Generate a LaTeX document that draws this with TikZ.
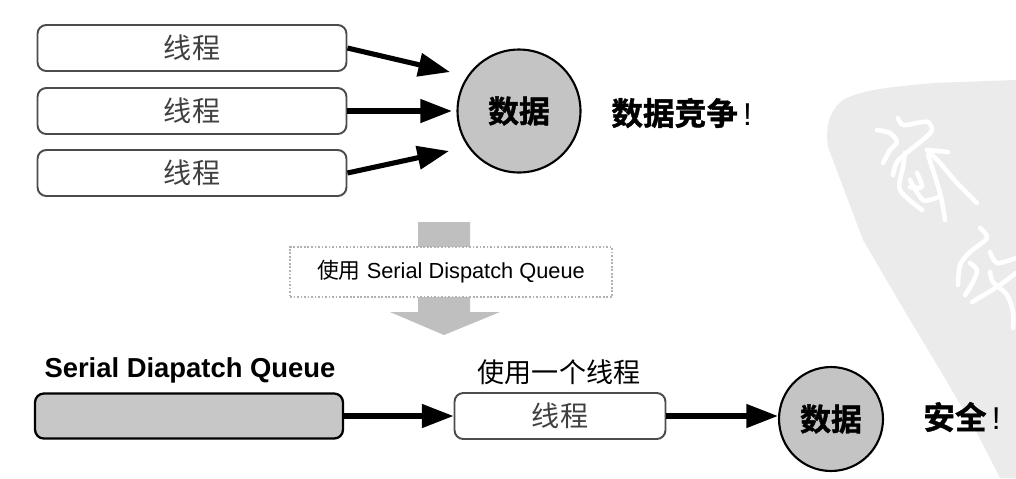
\documentclass[tikz,border=0pt]{standalone}
\usepackage{fontspec}
\setmainfont{Liberation Sans}
\newfontfamily\cjk{Noto Sans CJK SC}
\newfontfamily\cjkheavy[FakeBold=1.2]{Noto Sans CJK SC Bold}
\usetikzlibrary{arrows.meta}
\definecolor{seal}{gray}{0.92}
\definecolor{ballgray}{gray}{0.77}
\tikzset{
  threadbox/.style={draw=black!70, line width=1.1pt, rounded corners=5pt, fill=white, minimum width=6.18cm, minimum height=0.92cm, inner sep=0pt, font=\cjk\fontsize{16}{17}\selectfont, text=black!75},
  queuebox/.style={draw=black, line width=1.3pt, rounded corners=5pt, fill=black!22, minimum width=6.16cm, minimum height=0.9cm, inner sep=0pt},
  databall/.style={circle, draw=black, line width=1.2pt, fill=ballgray, inner sep=0pt, font=\cjkheavy\fontsize{17.6}{18}\selectfont},
  flowarrow/.style={line width=2.9pt, -{Triangle[length=18pt,width=13pt]}},
  boldlabel/.style={inner sep=0pt, font=\cjkheavy\fontsize{18}{19}\selectfont},
  sealstroke/.style={draw=white, line width=2.6pt, line cap=round, line join=round, smooth}
}
\begin{document}
\begin{tikzpicture}[x=0.02cm, y=-0.02cm]
\useasboundingbox (0,0) rectangle (1016,478);
% watermark
\fill[seal] (1016,80) -- (933,83) .. controls (890,87) and (860,90) .. (843,100) .. controls (830,110) and (825,125) .. (828,147) -- (863,240) -- (910,320) -- (940,370) -- (977,433) -- (1000,478) -- (1016,478) -- cycle;
\draw[sealstroke] plot coordinates {(877,130) (890,133) (897,142) (890,150) (883,163)};
\draw[sealstroke] plot coordinates {(898,118) (903,125) (917,123) (928,122) (932,130) (925,138) (910,150) (897,162) (893,175)};
\draw[sealstroke] plot coordinates {(927,150) (948,152)};
\draw[sealstroke] plot coordinates {(927,150) (940,163) (957,183) (977,203)};
\draw[sealstroke] plot coordinates {(905,153) (903,167) (900,190) (922,210)};
\draw[sealstroke] plot coordinates {(917,173) (922,187) (910,187)};
\draw[sealstroke] plot coordinates {(910,180) (923,200) (938,197)};
\draw[sealstroke] plot coordinates {(928,155) (940,193) (945,220)};
\draw[sealstroke] plot coordinates {(980,228) (987,238) (970,252) (960,265) (958,285)};
\draw[sealstroke] plot coordinates {(990,252) (997,263) (1016,258)};
\draw[sealstroke] plot coordinates {(970,263) (977,270) (973,282) (965,295)};
\draw[sealstroke] plot coordinates {(972,302) (997,287) (1016,273)};
\draw[sealstroke] plot coordinates {(990,272) (993,282) (1007,295) (1013,312) (1013,328)};
% threads
\foreach \y/\nm in {48/threada,111/threadb,173/threadc} {
\node[threadbox] (\nm) at (192,\y) {线程};
}
\node[databall, minimum size=2.46cm] (data) at (519,111) {数据};
\node[boldlabel, anchor=west] (race) at (611,113) {数据竞争{\normalfont\,!}};
\coordinate (hita) at (450,72);
\coordinate (hitb) at (452,111);
\coordinate (hitc) at (449,151);
\draw[flowarrow] (threada.east) -- (hita);
\draw[flowarrow] (threadb.east) -- (hitb);
\draw[flowarrow] (threadc.east) -- (hitc);
% big arrow
\fill[black!25] (418,222) -- (470,222) -- (470,312) -- (500,312) -- (444,335) -- (390,312) -- (418,312) -- cycle;
\node[draw=black!30, densely dotted, line width=1pt, fill=white, minimum width=6.44cm, minimum height=1cm, inner sep=0pt, font=\fontsize{12.4}{14}\selectfont] (use) at (451,272) {{\cjk 使用} Serial Dispatch Queue};
% bottom row
\node[font=\bfseries\fontsize{15.6}{17}\selectfont, inner sep=0pt] (qname) at (190,370) {Serial Diapatch Queue};
\node[queuebox] (queue) at (189,416) {};
\node[threadbox, minimum width=4.22cm, minimum height=0.92cm] (single) at (560,416) {线程};
\node[font=\cjk\fontsize{15.4}{17}\selectfont, inner sep=0pt] (one) at (559,372) {使用一个线程};
\node[databall, minimum size=2.08cm] (safedata) at (831,419) {数据};
\node[boldlabel, anchor=west] (safe) at (923,417) {安全{\normalfont\,!}};
\draw[flowarrow] (queue.east) -- (single.west);
\draw[flowarrow] (single.east) -- (single.east -| safedata.west);
\end{tikzpicture}
\end{document}
